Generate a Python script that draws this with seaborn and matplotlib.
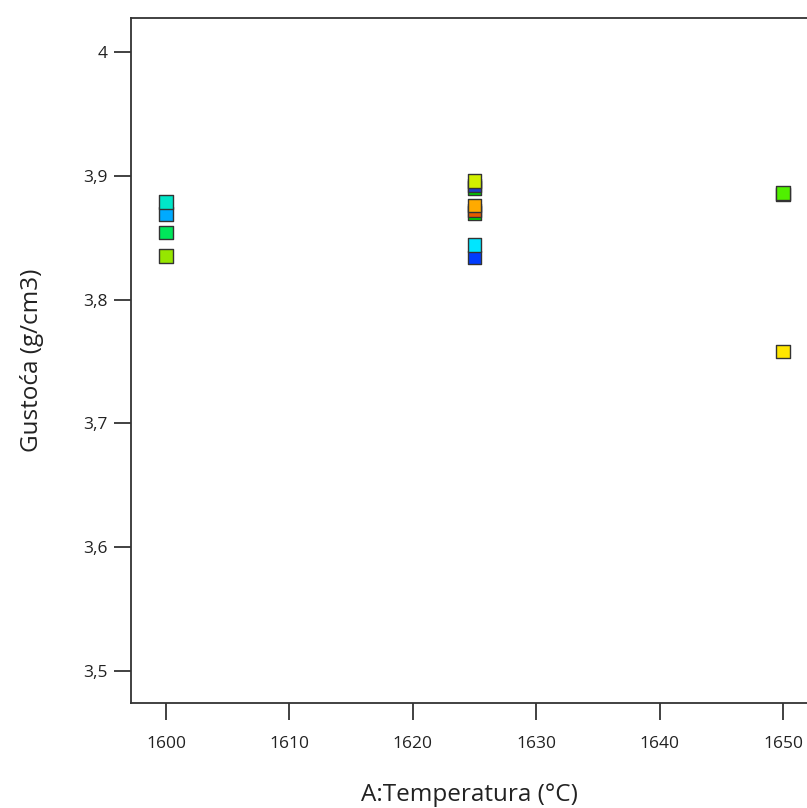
import pandas as pd
import matplotlib.pyplot as plt
import seaborn as sns

# data (drawing order matters: later points sit on top)
temperature = [1600, 1600, 1600, 1600,
               1625, 1625, 1625, 1625, 1625, 1625, 1625, 1625,
               1650, 1650, 1650]
density = [3.835, 3.854, 3.869, 3.879,
           3.890, 3.892, 3.896, 3.870, 3.872, 3.876, 3.834, 3.844,
           3.885, 3.886, 3.758]
point_colors = ['#96e600', '#00e65a', '#00aaff', '#00e6c8',
                '#00d200', '#1e3cc8', '#d2f000', '#00dc00', '#e65a00', '#ffaa00', '#003cff', '#00e6ff',
                '#8c1e00', '#50f000', '#ffe600']

x_ticks = [1600, 1610, 1620, 1630, 1640, 1650]
y_ticks = [3.5, 3.6, 3.7, 3.8, 3.9, 4.0]
y_tick_labels = ['3,5', '3,6', '3,7', '3,8', '3,9', '4']

df = pd.DataFrame({'temp': temperature, 'dens': density,
                   'pt': [str(i) for i in range(len(temperature))]})
palette = dict(zip(df['pt'], point_colors))

sns.set_style('white')
plt.rcParams['font.family'] = ['Open Sans', 'DejaVu Sans']

fig = plt.figure(figsize=(8.07, 8.08), dpi=100)
ax = fig.add_axes([131 / 807, 105 / 808, 1 - 131 / 807, (703 - 18) / 808])

sns.scatterplot(data=df, x='temp', y='dens', hue='pt', palette=palette,
                marker='s', s=95, edgecolor='#333333', linewidth=1.0,
                legend=False, ax=ax, zorder=3)

ax.set_xlim(1597.16, 1651.94)
ax.set_ylim(3.474, 4.0275)
ax.set_xticks(x_ticks)
ax.set_yticks(y_ticks)
ax.set_yticklabels(y_tick_labels)
ax.tick_params(axis='both', direction='out', length=12, width=1.3, color='#333333',
               labelsize=12.5, labelcolor='#222222', left=True, bottom=True)
ax.tick_params(axis='x', pad=12)
ax.tick_params(axis='y', pad=5)

for side in ['left', 'bottom', 'top']:
    ax.spines[side].set_color('#333333')
    ax.spines[side].set_linewidth(1.3)
ax.spines['right'].set_visible(False)

ax.set_xlabel('A:Temperatura (°C)', fontsize=17.5, color='#222222', labelpad=22)
ax.set_ylabel('Gustoća (g/cm3)', fontsize=17.5, color='#222222', labelpad=28)

fig.savefig('out.png', dpi=100)
